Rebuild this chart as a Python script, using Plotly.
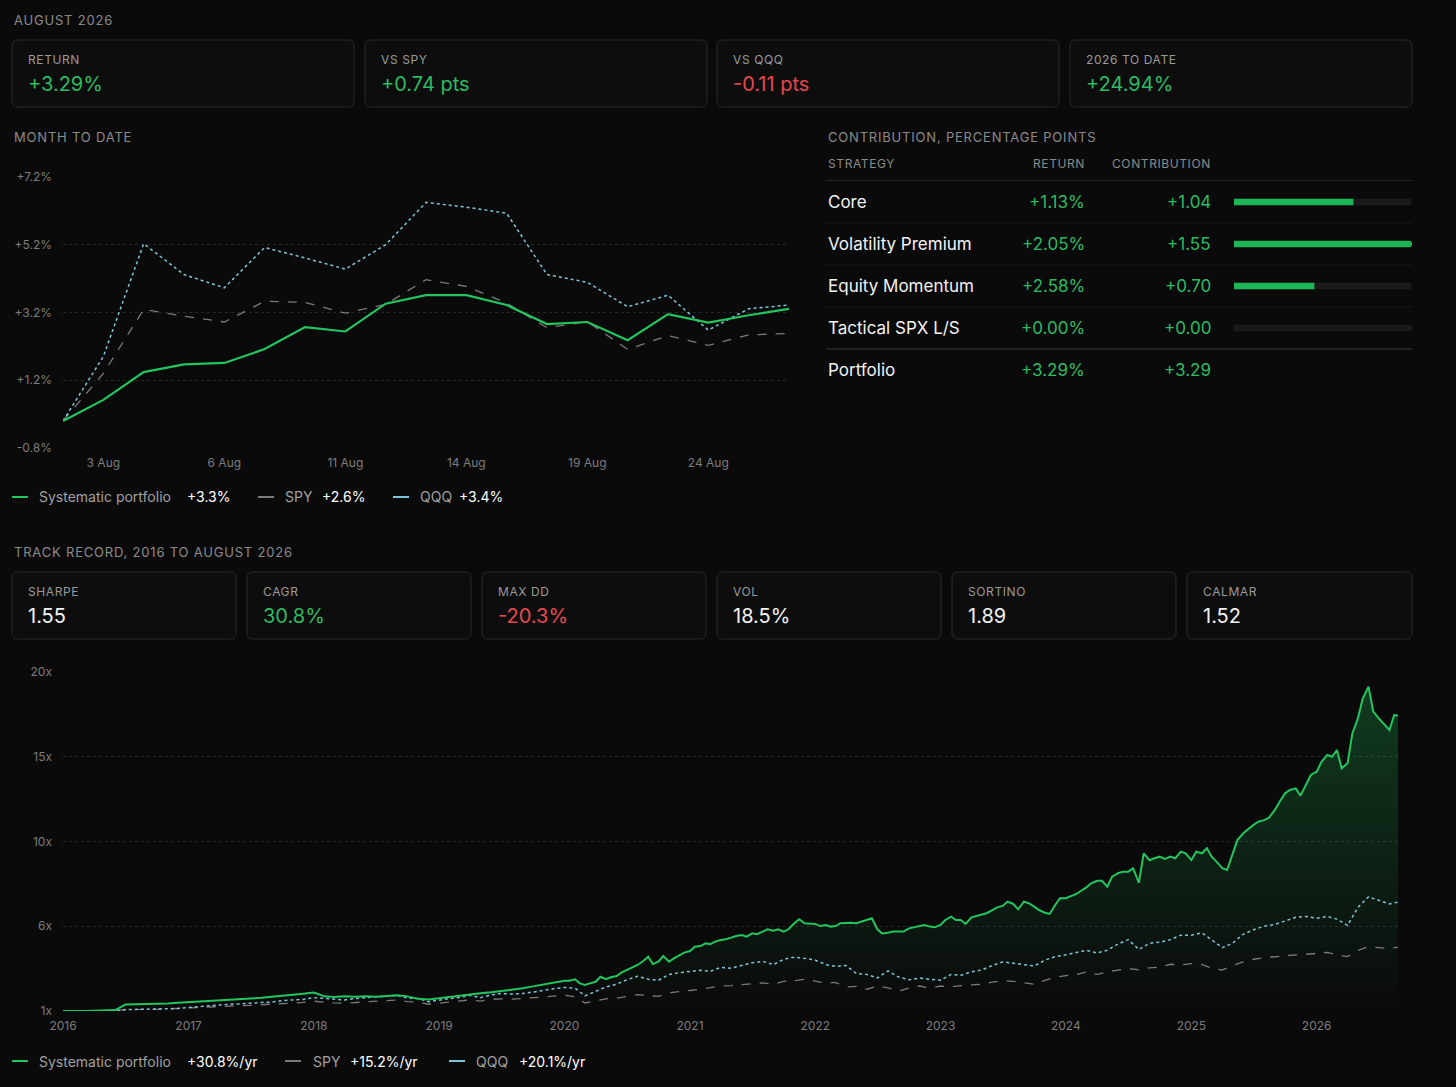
import pandas as pd
import plotly.graph_objects as go

# page gets an 8px body margin, so the figure is 16px smaller than the window
PAD = 8
W, H = 1456 - 2 * PAD, 1087 - 2 * PAD

# ---- month to date (trading days) ----
mtd_days = ["31 Jul", "3 Aug", "4 Aug", "5 Aug", "6 Aug", "7 Aug", "10 Aug", "11 Aug", "12 Aug",
            "13 Aug", "14 Aug", "17 Aug", "18 Aug", "19 Aug", "20 Aug", "21 Aug", "24 Aug", "25 Aug", "26 Aug"]
mtd_ticks = ["3 Aug", "6 Aug", "11 Aug", "14 Aug", "19 Aug", "24 Aug"]
mtd_port = [0.0, 0.62, 1.44, 1.67, 1.71, 2.12, 2.77, 2.64, 3.46, 3.71, 3.71, 3.42, 2.86, 2.92, 2.38, 3.15, 2.90, 3.12, 3.31]
mtd_spy = [0.0, 1.40, 3.29, 3.09, 2.92, 3.53, 3.50, 3.18, 3.44, 4.17, 3.97, 3.48, 2.75, 2.93, 2.11, 2.52, 2.23, 2.54, 2.58]
mtd_qqq = [0.0, 1.90, 5.23, 4.32, 3.93, 5.12, 4.81, 4.48, 5.20, 6.45, 6.31, 6.13, 4.32, 4.09, 3.37, 3.71, 2.68, 3.31, 3.42]
mtd_yticks = [-0.8, 1.2, 3.2, 5.2, 7.2]
mtd_ytext = ["-0.8%", "+1.2%", "+3.2%", "+5.2%", "+7.2%"]

# ---- contribution table ----
strategies = ["Core", "Volatility Premium", "Equity Momentum", "Tactical SPX L/S"]
strat_return = [1.13, 2.05, 2.58, 0.00]
strat_contrib = [1.04, 1.55, 0.70, 0.00]
port_return, port_contrib = 3.29, 3.29

# ---- headline cards ----
month_labels = ["RETURN", "VS SPY", "VS QQQ", "2026 TO DATE"]
month_values = ["+3.29%", "+0.74 pts", "-0.11 pts", "+24.94%"]
month_colors = ["g", "g", "r", "g"]
track_labels = ["SHARPE", "CAGR", "MAX DD", "VOL", "SORTINO", "CALMAR"]
track_values = ["1.55", "30.8%", "-20.3%", "18.5%", "1.89", "1.52"]
track_colors = ["w", "g", "r", "w", "w", "w"]

# ---- track record, growth of 1 ----
# portfolio: month starts to 2019, then 1st/15th of each month, plus the last day
port_dates = (list(pd.date_range("2016-01-01", "2019-12-01", freq="MS").strftime("%Y-%m-%d"))
              + list(pd.date_range("2020-01-01", "2026-08-15", freq="SMS").strftime("%Y-%m-%d"))
              + ["2026-08-26"])
port_growth = [
    1.00, 0.98, 1.00, 1.02, 1.03, 1.05, 1.36, 1.37, 1.38, 1.40, 1.42, 1.46,
    1.49, 1.52, 1.55, 1.58, 1.62, 1.66, 1.70, 1.74, 1.79, 1.85, 1.91, 1.97,
    2.04, 1.82, 1.78, 1.82, 1.80, 1.83, 1.80, 1.84, 1.88, 1.82, 1.68, 1.64,
    1.72, 1.80, 1.88, 1.95, 2.00, 2.05, 2.12, 2.20, 2.27, 2.38, 2.50, 2.60,
    # 2020 onwards, twice a month
    2.70, 2.70, 2.78, 2.55, 2.46, 2.55, 2.64, 2.92, 2.78, 2.89, 2.96, 3.15,
    3.30, 3.45, 3.58, 3.76, 4.04, 3.63, 3.76, 4.08, 3.76, 3.95, 4.14, 4.27,
    4.36, 4.60, 4.64, 4.79, 4.75, 4.89, 4.98, 5.02, 5.11, 5.20, 5.26, 5.17,
    5.35, 5.30, 5.45, 5.58, 5.50, 5.58, 5.45, 5.58, 5.92, 6.14, 5.92, 5.92,
    5.88, 5.76, 5.82, 5.73, 5.76, 5.92, 5.95, 5.95, 5.92, 6.00, 6.14, 6.20,
    5.58, 5.35, 5.39, 5.45, 5.45, 5.45, 5.63, 5.69, 5.73, 5.82, 5.73, 5.69,
    5.82, 6.10, 6.29, 6.10, 6.10, 5.88, 6.25, 6.32, 6.38, 6.48, 6.66, 6.81,
    6.89, 7.13, 7.00, 6.70, 7.13, 7.04, 6.85, 6.66, 6.51, 6.44, 6.94, 7.32,
    7.32, 7.41, 7.56, 7.74, 7.93, 8.16, 8.30, 8.30, 7.97, 8.53, 8.72, 8.81,
    8.81, 9.00, 8.19, 9.84, 9.45, 9.56, 9.65, 9.52, 9.65, 9.56, 9.93, 9.84,
    9.46, 9.93, 9.84, 10.12, 9.65, 9.37, 9.00, 8.90, 9.84, 10.58, 10.96, 11.20,
    11.43, 11.61, 11.70, 11.83, 12.27, 12.73, 13.20, 13.39, 13.48, 13.07, 13.67, 14.23,
    14.41, 14.97, 15.35, 15.25, 15.63, 14.60, 14.88, 16.56, 17.40, 18.50, 19.18, 17.78,
    17.40, 17.13, 16.75, 17.59, 17.55]
# benchmarks: month starts plus the last day
bench_dates = list(pd.date_range("2016-01-01", "2026-08-01", freq="MS").strftime("%Y-%m-%d")) + ["2026-08-26"]
spy_growth = [
    1.00, 0.95, 1.00, 1.02, 1.03, 1.03, 1.08, 1.10, 1.10, 1.09, 1.12, 1.15,
    1.18, 1.22, 1.24, 1.25, 1.28, 1.30, 1.32, 1.35, 1.36, 1.40, 1.44, 1.48,
    1.55, 1.48, 1.45, 1.44, 1.48, 1.50, 1.55, 1.60, 1.62, 1.52, 1.50, 1.38,
    1.45, 1.52, 1.55, 1.62, 1.55, 1.65, 1.68, 1.66, 1.70, 1.74, 1.80, 1.85,
    1.88, 1.80, 1.45, 1.58, 1.68, 1.72, 1.80, 1.92, 1.86, 1.82, 2.02, 2.10,
    2.15, 2.22, 2.30, 2.40, 2.42, 2.46, 2.52, 2.58, 2.50, 2.66, 2.70, 2.78,
    2.68, 2.55, 2.60, 2.35, 2.38, 2.22, 2.40, 2.30, 2.12, 2.28, 2.40, 2.28,
    2.40, 2.35, 2.42, 2.48, 2.50, 2.62, 2.70, 2.66, 2.58, 2.50, 2.72, 2.90,
    2.98, 3.05, 3.18, 3.05, 3.20, 3.30, 3.38, 3.30, 3.42, 3.45, 3.62, 3.58,
    3.66, 3.60, 3.40, 3.30, 3.55, 3.75, 3.90, 3.98, 4.05, 4.12, 4.15, 4.18,
    4.22, 4.28, 4.15, 4.05, 4.40, 4.60, 4.55, 4.50, 4.58]
qqq_growth = [
    1.00, 0.94, 1.00, 1.00, 1.02, 1.00, 1.08, 1.10, 1.12, 1.10, 1.12, 1.14,
    1.20, 1.25, 1.30, 1.33, 1.38, 1.40, 1.45, 1.48, 1.50, 1.58, 1.62, 1.65,
    1.75, 1.70, 1.65, 1.62, 1.70, 1.75, 1.80, 1.86, 1.88, 1.72, 1.70, 1.52,
    1.62, 1.70, 1.76, 1.88, 1.75, 1.90, 1.98, 1.95, 1.98, 2.05, 2.15, 2.25,
    2.32, 2.28, 1.85, 2.10, 2.35, 2.50, 2.75, 2.95, 2.78, 2.72, 3.05, 3.15,
    3.20, 3.28, 3.22, 3.45, 3.40, 3.55, 3.70, 3.78, 3.60, 3.90, 4.02, 3.95,
    3.85, 3.60, 3.50, 3.55, 3.10, 3.05, 2.85, 3.25, 2.90, 2.75, 2.85, 2.78,
    2.72, 3.05, 3.00, 3.20, 3.30, 3.55, 3.75, 3.68, 3.60, 3.52, 3.85, 4.05,
    4.15, 4.30, 4.40, 4.25, 4.40, 4.75, 5.00, 4.45, 4.80, 4.85, 5.00, 5.25,
    5.25, 5.38, 5.00, 4.55, 4.80, 5.30, 5.55, 5.75, 5.85, 6.05, 6.25, 6.30,
    6.20, 6.30, 6.15, 5.80, 6.80, 7.40, 7.20, 7.00, 7.10]
tr_yticks = [1, 5.75, 10.5, 15.25, 20]
tr_ytext = ["1x", "6x", "10x", "15x", "20x"]

BG = "#0a0a0a"
GREEN = "#22c55e"
TGREEN = "#2dbb62"
RED = "#e5484d"
GREY = "#8a8a8a"
SPYC = "#7a7a7a"
QQQC = "#7fc4d8"
FONT = "Inter"
colmap = {"g": TGREEN, "r": RED, "w": "#f2f2f2"}


# positions below are measured in window pixels
def X(px):
    return (px - PAD) / W


def Y(py):
    return 1 - (py - PAD) / H


def rrect(x0, y0, x1, y1, r=6):
    a, b, t, bo = X(x0), X(x1), Y(y0), Y(y1)
    rx, ry = r / W, r / H
    return (f"M{a+rx},{t} L{b-rx},{t} Q{b},{t} {b},{t-ry} L{b},{bo+ry} Q{b},{bo} {b-rx},{bo} "
            f"L{a+rx},{bo} Q{a},{bo} {a},{bo+ry} L{a},{t-ry} Q{a},{t} {a+rx},{t} Z")


def spaced(s, ls=0.8):
    return f"<span style='letter-spacing:{ls}px'>{s}</span>"


fig = go.Figure()
shapes, annos = [], []


def txt(px, py, s, size=13, color=GREY, anchor="left"):
    annos.append(dict(x=X(px), y=Y(py), xref="paper", yref="paper", text=s, showarrow=False,
                      xanchor=anchor, yanchor="middle", font=dict(family=FONT, size=size, color=color)))


def seg(x0, x1, py, color, w=2):
    shapes.append(dict(type="line", xref="paper", yref="paper", x0=X(x0), x1=X(x1), y0=Y(py), y1=Y(py),
                       line=dict(color=color, width=w)))


# MTD lines
fig.add_trace(go.Scatter(x=mtd_days, y=mtd_spy, mode="lines", line=dict(color=SPYC, width=1.3, dash="dash"),
                         xaxis="x", yaxis="y", hoverinfo="skip"))
fig.add_trace(go.Scatter(x=mtd_days, y=mtd_qqq, mode="lines", line=dict(color=QQQC, width=1.5, dash="dot"),
                         xaxis="x", yaxis="y", hoverinfo="skip"))
fig.add_trace(go.Scatter(x=mtd_days, y=mtd_port, mode="lines", line=dict(color=GREEN, width=2.2),
                         xaxis="x", yaxis="y", hoverinfo="skip"))

# contribution bars
track = [max(strat_contrib)] * len(strategies)
fig.add_trace(go.Bar(x=track, y=strategies, orientation="h",
                     marker=dict(color="#1a1a1a", cornerradius=3, line=dict(width=0)),
                     width=0.15, xaxis="x3", yaxis="y3", hoverinfo="skip"))
fig.add_trace(go.Bar(x=strat_contrib, y=strategies, orientation="h",
                     marker=dict(color="#1fb455", cornerradius=3, line=dict(width=0)),
                     width=0.15, xaxis="x3", yaxis="y3", hoverinfo="skip"))

# track record
fig.add_trace(go.Scatter(x=port_dates, y=port_growth, mode="lines", line=dict(color=GREEN, width=0), fill="tozeroy",
                         fillgradient=dict(type="vertical", start=1, stop=19,
                                           colorscale=[[0, "rgba(34,197,94,0)"], [1, "rgba(34,197,94,0.26)"]]),
                         xaxis="x2", yaxis="y2", hoverinfo="skip"))
fig.add_trace(go.Scatter(x=bench_dates, y=spy_growth, mode="lines", line=dict(color=SPYC, width=1.3, dash="dash"),
                         xaxis="x2", yaxis="y2", hoverinfo="skip"))
fig.add_trace(go.Scatter(x=bench_dates, y=qqq_growth, mode="lines", line=dict(color=QQQC, width=1.5, dash="dot"),
                         xaxis="x2", yaxis="y2", hoverinfo="skip"))
fig.add_trace(go.Scatter(x=port_dates, y=port_growth, mode="lines", line=dict(color=GREEN, width=2),
                         xaxis="x2", yaxis="y2", hoverinfo="skip"))

# header + month cards
txt(12, 20, spaced("AUGUST 2026"), 13, GREY)
card_x = [(12, 354), (365, 707), (717, 1059), (1070, 1412)]
for (x0, x1), lab, val, c in zip(card_x, month_labels, month_values, month_colors):
    shapes.append(dict(type="path", path=rrect(x0, 40, x1, 107), xref="paper", yref="paper",
                       fillcolor="#0d0d0d", line=dict(color="#2a2a2a", width=1), layer="below"))
    txt(x0 + 14, 59, spaced(lab, 0.6), 12, "#9a9a9a")
    txt(x0 + 14, 84, val, 20, colmap[c])

txt(12, 137, spaced("MONTH TO DATE"), 13, GREY)
txt(826, 137, spaced("CONTRIBUTION, PERCENTAGE POINTS"), 13, GREY)

# table text
txt(826, 163, spaced("STRATEGY", 0.6), 12, "#8a8a8a")
txt(1087, 163, spaced("RETURN", 0.6), 12, "#8a8a8a", "right")
txt(1213, 163, spaced("CONTRIBUTION", 0.6), 12, "#8a8a8a", "right")
seg(826, 1412, 180.5, "#242424", 1)
row_y = [202, 244, 286, 328]
for i, (nm, r, c) in enumerate(zip(strategies, strat_return, strat_contrib)):
    txt(826, row_y[i], nm, 17, "#f2f2f2")
    txt(1087, row_y[i], f"{r:+.2f}%", 17, TGREEN, "right")
    txt(1213, row_y[i], f"{c:+.2f}", 17, TGREEN, "right")
    if i < len(strategies) - 1:
        seg(826, 1412, row_y[i] + 21, "#191919", 1)
seg(826, 1412, 349, "#3a3a3a", 1)
txt(826, 370, "Portfolio", 17, "#f2f2f2")
txt(1087, 370, f"{port_return:+.2f}%", 17, TGREEN, "right")
txt(1213, 370, f"{port_contrib:+.2f}", 17, TGREEN, "right")

# MTD legend
seg(12, 28, 497, GREEN)
txt(37, 497, "Systematic portfolio", 14, "#a0a0a0")
txt(185, 497, "+3.3%", 14, "#ffffff")
seg(258, 274, 497, SPYC)
txt(283, 497, "SPY", 14, "#a0a0a0")
txt(320, 497, "+2.6%", 14, "#ffffff")
seg(393, 409, 497, QQQC)
txt(418, 497, "QQQ", 14, "#a0a0a0")
txt(457, 497, "+3.4%", 14, "#ffffff")

# track record header + cards
txt(12, 552, spaced("TRACK RECORD, 2016 TO AUGUST 2026"), 13, GREY)
tcard_x = [(12, 236), (247, 471), (482, 706), (717, 941), (952, 1176), (1187, 1412)]
for (x0, x1), lab, val, c in zip(tcard_x, track_labels, track_values, track_colors):
    shapes.append(dict(type="path", path=rrect(x0, 572, x1, 639), xref="paper", yref="paper",
                       fillcolor="#0d0d0d", line=dict(color="#2a2a2a", width=1), layer="below"))
    txt(x0 + 14, 591, spaced(lab, 0.6), 12, "#9a9a9a")
    txt(x0 + 14, 616, val, 20, colmap[c])

# bottom legend
seg(12, 28, 1061, GREEN)
txt(37, 1061, "Systematic portfolio", 14, "#a0a0a0")
txt(185, 1061, "+30.8%/yr", 14, "#ffffff")
seg(285, 301, 1061, SPYC)
txt(311, 1061, "SPY", 14, "#a0a0a0")
txt(348, 1061, "+15.2%/yr", 14, "#ffffff")
seg(449, 465, 1061, QQQC)
txt(474, 1061, "QQQ", 14, "#a0a0a0")
txt(517, 1061, "+20.1%/yr", 14, "#ffffff")

tickf = dict(family=FONT, size=12, color="#7d7d7d")
fig.update_layout(
    width=W, height=H, margin=dict(l=0, r=0, t=0, b=0, autoexpand=False),
    paper_bgcolor=BG, plot_bgcolor=BG, showlegend=False, barmode="overlay",
    font=dict(family=FONT, color=GREY),
    shapes=shapes, annotations=annos,
    xaxis=dict(domain=[X(63), X(789)], anchor="y", type="category", range=[0, len(mtd_days) - 1],
               tickvals=mtd_ticks, showgrid=False, zeroline=False, showline=False, ticks="",
               tickfont=tickf, ticklabelstandoff=6, automargin=False),
    yaxis=dict(domain=[Y(448), Y(177)], anchor="x", range=[mtd_yticks[0], mtd_yticks[-1]],
               tickvals=mtd_yticks, ticktext=mtd_ytext, gridcolor="#262626", griddash="dot",
               zeroline=False, showline=False, ticks="", tickfont=tickf, ticklabelstandoff=10, automargin=False),
    xaxis2=dict(domain=[X(63), X(1398)], anchor="y2", type="date", range=[port_dates[0], port_dates[-1]],
                dtick="M12", tick0="2016-01-01", tickformat="%Y", showgrid=False, zeroline=False,
                showline=False, ticks="", tickfont=tickf, ticklabelstandoff=6, automargin=False),
    yaxis2=dict(domain=[Y(1011), Y(672)], anchor="x2", range=[tr_yticks[0], tr_yticks[-1]],
                tickvals=tr_yticks, ticktext=tr_ytext, gridcolor="#262626", griddash="dot",
                zeroline=False, showline=False, ticks="", tickfont=tickf, ticklabelstandoff=10, automargin=False),
    xaxis3=dict(domain=[X(1234), X(1412)], anchor="y3", range=[0, max(strat_contrib)], visible=False,
                automargin=False),
    yaxis3=dict(domain=[Y(349), Y(181)], anchor="x3", autorange="reversed", visible=False, automargin=False),
)

fig.write_html("out.html", config={"displayModeBar": False},
               post_script="document.body.style.background='#0a0a0a';")
